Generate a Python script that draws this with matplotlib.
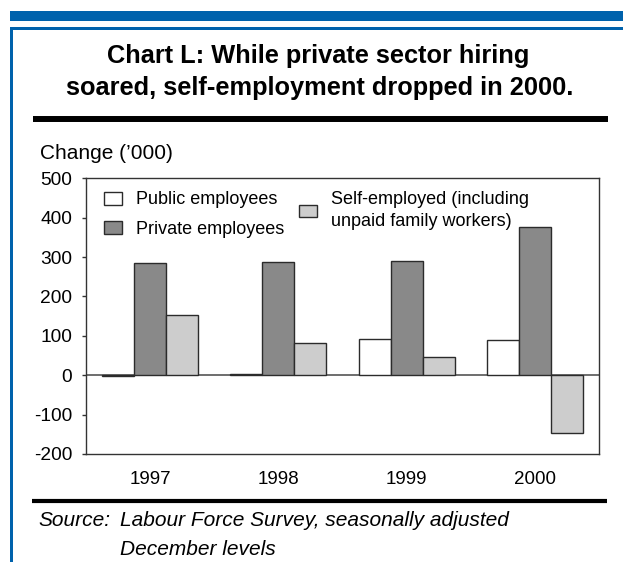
import matplotlib
matplotlib.use("Agg")
import matplotlib.pyplot as plt
from matplotlib.patches import Rectangle, Patch
from matplotlib.lines import Line2D
import numpy as np

plt.rcParams['font.family'] = ['Liberation Sans', 'DejaVu Sans']

# Annual change in employment, thousands
years = ['1997', '1998', '1999', '2000']
public_employees = [-3, 3, 91, 89]
private_employees = [284, 287, 290, 377]
self_employed = [153, 82, 46, -146]

series_labels = ['Public employees', 'Private employees',
                 'Self-employed (including\nunpaid family workers)']
series_colors = ['#ffffff', '#898989', '#cdcdcd']

y_ticks = [-200, -100, 0, 100, 200, 300, 400, 500]

W, H = 623, 562
fig = plt.figure(figsize=(W / 100, H / 100), dpi=100)

def fx(px):
    return px / W

def fy(py):
    return 1 - py / H

# Blue frame
blue = '#0062ac'
fig.add_artist(Rectangle((fx(10), fy(21)), fx(623) - fx(10), fy(11) - fy(21),
                         transform=fig.transFigure, color=blue, lw=0))
fig.add_artist(Rectangle((fx(10), fy(29.5)), fx(623) - fx(10), fy(27) - fy(29.5),
                         transform=fig.transFigure, color=blue, lw=0))
fig.add_artist(Rectangle((fx(10), fy(562)), fx(12.5) - fx(10), fy(27) - fy(562),
                         transform=fig.transFigure, color=blue, lw=0))

# Title
fig.text(fx(318), fy(63), 'Chart L: While private sector hiring',
         ha='center', va='baseline', fontsize=18.3, fontweight='bold')
fig.text(fx(320), fy(95), 'soared, self-employment dropped in 2000.',
         ha='center', va='baseline', fontsize=18.3, fontweight='bold')

# Rules above and below the chart
fig.add_artist(Line2D([fx(33), fx(608)], [fy(119), fy(119)],
                      transform=fig.transFigure, color='black', lw=4.3,
                      solid_capstyle='butt'))
fig.add_artist(Line2D([fx(32), fx(607)], [fy(501), fy(501)],
                      transform=fig.transFigure, color='black', lw=3.0,
                      solid_capstyle='butt'))

# Axes
ax = fig.add_axes([fx(86), fy(454), fx(599) - fx(86), fy(178.3) - fy(454)])
x = np.arange(len(years))
w = 0.25
edge = '#2b2b2b'
ax.bar(x - w, public_employees, w, color=series_colors[0], edgecolor=edge, lw=1, zorder=2)
ax.bar(x, private_employees, w, color=series_colors[1], edgecolor=edge, lw=1, zorder=2)
ax.bar(x + w, self_employed, w, color=series_colors[2], edgecolor=edge, lw=1, zorder=2)
ax.axhline(0, color='#555555', lw=1.2, zorder=1)

ax.set_xlim(-0.5, len(years) - 0.5)
ax.set_ylim(-200, 500)
ax.set_yticks(y_ticks)
ax.set_yticklabels([str(v) for v in y_ticks])
ax.set_xticks(x)
ax.set_xticklabels(years)
ax.tick_params(axis='y', length=3, width=1, color='#333333', pad=7, labelsize=13.8)
ax.tick_params(axis='x', length=0, pad=12, labelsize=13.5)
for s in ax.spines.values():
    s.set_color('#333333')
    s.set_linewidth(1)

fig.text(fx(40.5), fy(159.3), "Change (\u2019000)", ha='left', va='baseline',
         fontsize=15)

# Legends
handles = [Patch(facecolor=c, edgecolor=edge, lw=1) for c in series_colors]
leg_kw = dict(frameon=False, loc='upper left', borderaxespad=0, borderpad=0,
              handlelength=1.0, handleheight=0.72, handletextpad=0.75,
              labelspacing=0.68, fontsize=13)
anchor_y = (454 - 191.5) / 275.7
leg1 = ax.legend(handles[:2], series_labels[:2],
                 bbox_to_anchor=((104 - 86) / 513, anchor_y), **leg_kw)
ax.add_artist(leg1)
leg2 = ax.legend(handles[2:], series_labels[2:],
                 bbox_to_anchor=((299 - 86) / 513, anchor_y), **leg_kw)
for t in leg2.get_texts():
    t.set_linespacing(1.35)

# Source note
fig.text(fx(38), fy(526), 'Source:', style='italic', fontsize=15,
         ha='left', va='baseline')
fig.text(fx(120), fy(526), 'Labour Force Survey, seasonally adjusted',
         style='italic', fontsize=15, ha='left', va='baseline')
fig.text(fx(120), fy(555), 'December levels', style='italic', fontsize=15,
         ha='left', va='baseline')

fig.savefig('out.png', dpi=100)
